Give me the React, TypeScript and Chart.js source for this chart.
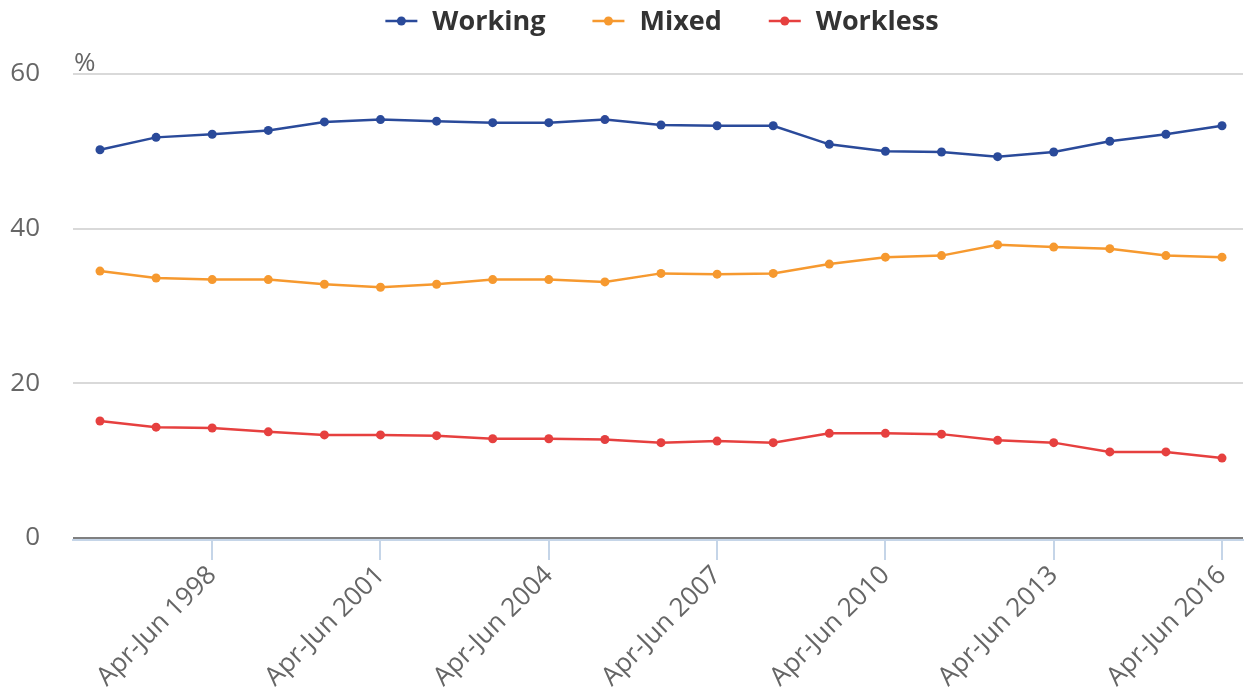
import { useEffect, useRef } from "react";
import { Chart, registerables } from "chart.js";

Chart.register(...registerables);

const categories = [
  "Apr-Jun 1996", "Apr-Jun 1997", "Apr-Jun 1998", "Apr-Jun 1999", "Apr-Jun 2000",
  "Apr-Jun 2001", "Apr-Jun 2002", "Apr-Jun 2003", "Apr-Jun 2004", "Apr-Jun 2005",
  "Apr-Jun 2006", "Apr-Jun 2007", "Apr-Jun 2008", "Apr-Jun 2009", "Apr-Jun 2010",
  "Apr-Jun 2011", "Apr-Jun 2012", "Apr-Jun 2013", "Apr-Jun 2014", "Apr-Jun 2015",
  "Apr-Jun 2016",
];

const working = [50.2, 51.8, 52.2, 52.7, 53.8, 54.1, 53.9, 53.7, 53.7, 54.1, 53.4, 53.3, 53.3, 50.9, 50.0, 49.9, 49.3, 49.9, 51.3, 52.2, 53.3];
const mixed = [34.5, 33.6, 33.4, 33.4, 32.8, 32.4, 32.8, 33.4, 33.4, 33.1, 34.2, 34.1, 34.2, 35.4, 36.3, 36.5, 37.9, 37.6, 37.4, 36.5, 36.3];
const workless = [15.1, 14.3, 14.2, 13.7, 13.3, 13.3, 13.2, 12.8, 12.8, 12.7, 12.3, 12.5, 12.3, 13.5, 13.5, 13.4, 12.6, 12.3, 11.1, 11.1, 10.3];

const seriesNames = ["Working", "Mixed", "Workless"];
const seriesColors = ["#2a4a9a", "#f6992f", "#e6403f"];

const xTickLabels = ["Apr-Jun 1998", "Apr-Jun 2001", "Apr-Jun 2004", "Apr-Jun 2007", "Apr-Jun 2010", "Apr-Jun 2013", "Apr-Jun 2016"];
const yTicks = [0, 20, 40, 60];
const yUnit = "%";

const FONT = "'Open Sans', 'Noto Sans', sans-serif";

const legendPlugin = {
  id: "customLegend",
  afterDraw(chart: any) {
    const ctx = chart.ctx;
    const area = chart.chartArea;
    ctx.save();
    ctx.font = `26px ${FONT}`;
    ctx.fillStyle = "#666666";
    ctx.textAlign = "left";
    ctx.textBaseline = "alphabetic";
    ctx.fillText(yUnit, area.left + 1, area.top - 3);

    const marker = 32;
    const gapText = 15;
    const gapItem = 47;
    ctx.font = `bold 27px ${FONT}`;
    const widths = chart.data.datasets.map((d: any) => ctx.measureText(d.label).width);
    const total = widths.reduce((a: number, w: number) => a + marker + gapText + w, 0) + gapItem * (widths.length - 1);
    let x = (area.left + area.right) / 2 - total / 2 + 4;
    const cy = 21;
    chart.data.datasets.forEach((d: any, i: number) => {
      ctx.strokeStyle = d.borderColor;
      ctx.lineWidth = 2.5;
      ctx.beginPath();
      ctx.moveTo(x, cy);
      ctx.lineTo(x + marker, cy);
      ctx.stroke();
      ctx.fillStyle = d.borderColor;
      ctx.beginPath();
      ctx.arc(x + marker / 2, cy, 4.5, 0, Math.PI * 2);
      ctx.fill();
      ctx.fillStyle = "#333333";
      ctx.textAlign = "left";
      ctx.textBaseline = "alphabetic";
      ctx.fillText(d.label, x + marker + gapText, 30);
      x += marker + gapText + widths[i] + gapItem;
    });
    ctx.restore();
  },
};

export default function App() {
  const ref = useRef<HTMLCanvasElement | null>(null);

  useEffect(() => {
    if (!ref.current) return;
    const seriesValues = [working, mixed, workless];
    const tickIdx = xTickLabels.map((l) => categories.indexOf(l));
    const chart = new Chart(ref.current, {
      type: "line",
      data: {
        datasets: seriesValues.map((vals, i) => ({
          label: seriesNames[i],
          data: vals.map((v, j) => ({ x: j, y: v })),
          borderColor: seriesColors[i],
          backgroundColor: seriesColors[i],
          pointBackgroundColor: seriesColors[i],
          pointBorderWidth: 0,
          pointRadius: 4.5,
          borderWidth: 2.5,
          tension: 0,
          fill: false,
          clip: 8,
        })),
      },
      options: {
        animation: false,
        responsive: true,
        maintainAspectRatio: false,
        layout: { autoPadding: false, padding: { top: 74, right: 1, left: 0, bottom: 0 } },
        plugins: {
          legend: { display: false },
          tooltip: { enabled: false },
        },
        scales: {
          x: {
            type: "linear",
            min: -0.481,
            max: 20.374,
            afterBuildTicks: (s: any) => {
              s.ticks = tickIdx.map((v) => ({ value: v }));
            },
            afterFit: (s: any) => {
              s.height = 151;
              s.paddingRight = 0;
              s.paddingLeft = 0;
            },
            ticks: {
              autoSkip: false,
              maxRotation: 45,
              minRotation: 45,
              padding: 0,
              color: "#666666",
              font: { family: FONT, size: 26 },
              callback: (v: any) => categories[v as number],
            },
            grid: {
              drawOnChartArea: false,
              drawTicks: true,
              tickLength: 20,
              tickColor: "#c5d5e8",
              tickWidth: 2,
              color: "#c5d5e8",
              lineWidth: 2,
            },
            border: { display: true, color: "#c5d5e8", width: 2 },
          },
          y: {
            min: -0.3,
            max: 60,
            afterBuildTicks: (s: any) => {
              s.ticks = yTicks.map((v) => ({ value: v }));
            },
            afterFit: (s: any) => {
              s.width = 73;
            },
            ticks: {
              padding: 33,
              color: "#666666",
              font: { family: FONT, size: 26 },
            },
            grid: {
              drawTicks: false,
              color: (c: any) => (c.tick && c.tick.value === 0 ? "#808080" : "#d9d9d9"),
              lineWidth: 2,
            },
            border: { display: false },
          },
        },
      },
      plugins: [legendPlugin],
    });
    return () => chart.destroy();
  }, []);

  return (
    <div style={{ position: "fixed", left: 0, top: 0, width: "100vw", height: "100vh", background: "#fff" }}>
      <canvas ref={ref} />
    </div>
  );
}
